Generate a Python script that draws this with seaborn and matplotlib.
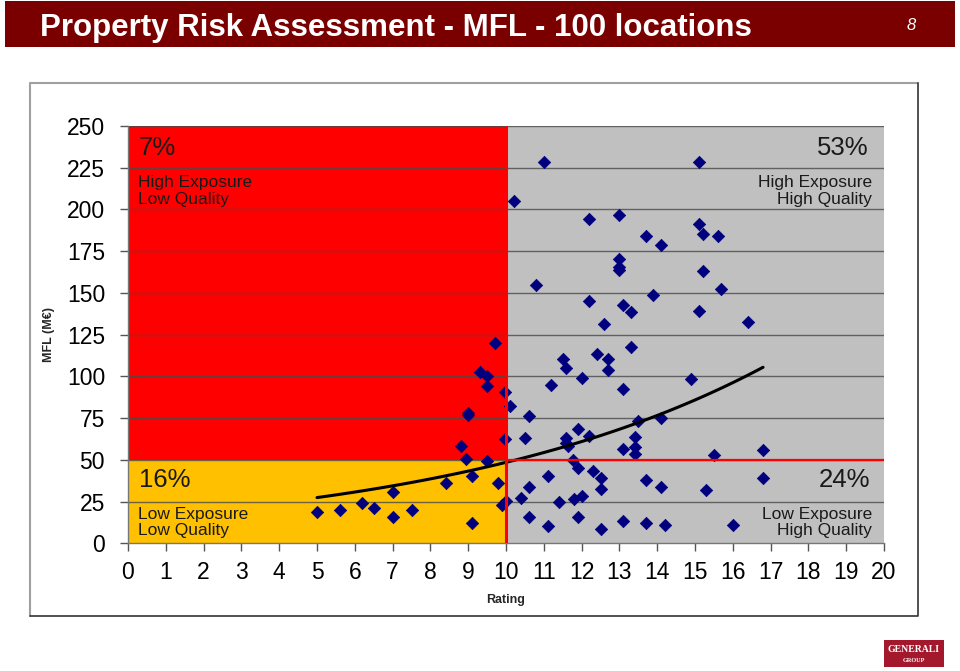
"""
plot.py

Property Risk Assessment - MFL by Rating scatter (100 locations)
Quadrant backgrounds, diamond markers, exponential trend line.
"""

import numpy as np
import pandas as pd
import matplotlib
matplotlib.use('Agg')
import matplotlib.pyplot as plt
from matplotlib.patches import Rectangle
import seaborn as sns

# Location ratings (x) and MFL in M EUR (y)
rating = [5.0, 5.6, 6.2, 6.5, 7.0, 7.0, 7.5, 8.4, 8.8, 8.95,
          9.0, 9.0, 9.1, 9.1, 9.3, 9.5, 9.5, 9.5, 9.7, 9.8,
          9.9, 9.97, 9.97, 10.0,
          10.1, 10.2, 10.6, 10.5, 10.8, 11.0, 11.2, 11.5, 11.6, 11.58,
          11.58, 11.65, 11.78, 11.9, 12.0, 12.2, 12.2, 12.2, 12.4, 12.6,
          12.7, 12.7, 13.0, 13.0, 13.0, 13.0, 13.1, 13.1, 13.1, 13.3,
          13.3, 13.4, 13.4, 13.4, 13.5, 13.7, 13.9, 14.1, 14.1, 14.9,
          15.1, 15.1, 15.2, 15.6, 15.2, 15.7, 15.1, 16.4, 15.5, 16.8,
          10.4, 10.6, 10.6, 11.1, 11.1, 11.4, 11.8, 11.9, 11.9, 12.0,
          12.3, 12.5, 12.5, 12.5, 13.1, 13.7, 13.7, 14.1, 14.2, 15.3,
          16.8, 16.0]
mfl = [18.6, 19.9, 24.3, 21.0, 30.6, 15.6, 19.8, 36.3, 58.1, 50.3,
       78.0, 77.0, 12.2, 40.3, 102.4, 100.0, 94.2, 49.5, 119.8, 36.3,
       23.1, 90.8, 62.7, 25.3,
       82.1, 205.3, 76.5, 62.9, 154.8, 228.5, 95.0, 110.6, 105.2, 62.9,
       59.9, 58.3, 49.9, 68.5, 99.2, 64.5, 194.5, 145.4, 113.4, 131.6,
       110.6, 103.7, 196.5, 170.3, 165.4, 163.8, 142.6, 92.3, 56.5, 117.6,
       138.6, 63.5, 57.5, 53.5, 73.3, 184.0, 149.0, 178.5, 75.3, 98.3,
       228.5, 191.5, 185.1, 184.3, 163.2, 152.6, 139.4, 132.6, 53.1, 56.1,
       27.3, 33.6, 16.0, 40.5, 10.2, 24.7, 26.5, 45.3, 16.0, 28.3,
       43.5, 39.0, 32.5, 8.7, 13.2, 37.9, 12.0, 33.9, 10.8, 32.1,
       38.9, 11.1]

# Quadrant labels
quadPct = ['7%', '53%', '16%', '24%']
quadText = ['High Exposure\nLow Quality', 'High Exposure\nHigh Quality',
            'Low Exposure\nLow Quality', 'Low Exposure\nHigh Quality']

xTicks = list(range(0, 21))
yTicks = [0, 25, 50, 75, 100, 125, 150, 175, 200, 225, 250]

# Thresholds
ratingCut = 10
mflCut = 50

pointsDF = pd.DataFrame({'Rating': rating, 'MFL': mfl})

sns.set_style('white')
plt.rcParams['font.family'] = ['Liberation Sans', 'DejaVu Sans']

fig = plt.figure(figsize=(9.6, 6.71), dpi=100)

# Title bar
fig.patches.append(Rectangle((5 / 960, 1 - 47 / 671), 950 / 960, 46 / 671,
                             transform=fig.transFigure, facecolor='#7a0000',
                             edgecolor='none', zorder=0))
fig.text(40 / 960, 1 - 28 / 671, 'Property Risk Assessment - MFL - 100 locations',
         color='white', fontsize=22.5, fontweight='bold', va='center', ha='left')
fig.text(911 / 960, 1 - 25 / 671, '8', color='white', fontsize=12, style='italic',
         va='center', ha='center')

# Chart frame (light top/left, dark right/bottom)
fL, fR, fT, fB = 30 / 960, 918 / 960, 1 - 83 / 671, 1 - 616 / 671
fig.lines.append(plt.Line2D([fL, fL, fR], [fB, fT, fT], transform=fig.transFigure,
                            color='#a0a0a0', lw=1.5))
fig.lines.append(plt.Line2D([fL, fR, fR], [fB, fB, fT], transform=fig.transFigure,
                            color='#333333', lw=1.2))

# Logo stand-in
fig.patches.append(Rectangle((884 / 960, 1 - 667 / 671), 60 / 960, 27 / 671,
                             transform=fig.transFigure, facecolor='#a3182c',
                             edgecolor='none'))
fig.text(914 / 960, 1 - 650 / 671, 'GENERALI', color='white', fontsize=7,
         fontweight='bold', ha='center', va='center', family=['Liberation Serif'])
fig.text(914 / 960, 1 - 661 / 671, 'GROUP', color='white', fontsize=4.5,
         fontweight='bold', ha='center', va='center', family=['Liberation Serif'])

ax = fig.add_axes([128 / 960, 1 - 543.3 / 671, 756 / 960, 417.3 / 671])

# Quadrant backgrounds
ax.add_patch(Rectangle((0, mflCut), ratingCut, 250 - mflCut, facecolor='#ff0000',
                       edgecolor='none', zorder=0))
ax.add_patch(Rectangle((0, 0), ratingCut, mflCut, facecolor='#ffc000',
                       edgecolor='none', zorder=0))
ax.add_patch(Rectangle((ratingCut, 0), 20 - ratingCut, 250, facecolor='#c0c0c0',
                       edgecolor='none', zorder=0))

# Gridlines
for yv in yTicks[1:]:
    ax.axhline(yv, color='#4a4a4a', lw=1.0, alpha=0.8, zorder=1)

# Exponential trend (least squares on log MFL, as Excel does)
b, lnA = np.polyfit(pointsDF['Rating'], np.log(pointsDF['MFL']), 1)
trendX = np.linspace(pointsDF['Rating'].min(), pointsDF['Rating'].max(), 100)
trendDF = pd.DataFrame({'Rating': trendX, 'MFL': np.exp(lnA) * np.exp(b * trendX)})

sns.scatterplot(data=pointsDF, x='Rating', y='MFL', marker='D', s=40,
                color='#00007f', edgecolor='#00007f', linewidth=0.5, ax=ax, zorder=3)
sns.lineplot(data=trendDF, x='Rating', y='MFL', color='black', lw=2.2, ax=ax, zorder=4)

# Threshold lines
ax.plot([ratingCut, ratingCut], [0, 250], color='#ff0000', lw=2.2, zorder=5)
ax.plot([ratingCut, 20], [mflCut, mflCut], color='#ff0000', lw=1.6, zorder=5)

# Quadrant texts
txtColor = '#1a1a1a'
pctSize = 18.5
lblSize = 12.5
ax.text(0.28, 237, quadPct[0], fontsize=pctSize, color=txtColor, ha='left', va='center')
ax.text(0.26, 211, quadText[0], fontsize=lblSize, color=txtColor, ha='left', va='center',
        linespacing=1.12)
ax.text(19.6, 237, quadPct[1], fontsize=pctSize, color=txtColor, ha='right', va='center')
ax.text(19.68, 211, quadText[1], fontsize=lblSize, color=txtColor, ha='right', va='center',
        linespacing=1.12, multialignment='right')
ax.text(0.28, 38, quadPct[2], fontsize=pctSize, color=txtColor, ha='left', va='center')
ax.text(0.26, 12.5, quadText[2], fontsize=lblSize, color=txtColor, ha='left', va='center',
        linespacing=1.12)
ax.text(19.63, 38, quadPct[3], fontsize=pctSize, color=txtColor, ha='right', va='center')
ax.text(19.68, 12.5, quadText[3], fontsize=lblSize, color=txtColor, ha='right', va='center',
        linespacing=1.12, multialignment='right')

ax.set_xlim(0, 20)
ax.set_ylim(0, 250)
ax.set_xticks(xTicks)
ax.set_yticks(yTicks)
ax.tick_params(axis='both', direction='out', length=5.5, width=1, color='#555555',
               labelsize=16.5, labelcolor='black', left=True, bottom=True)
ax.tick_params(axis='x', pad=7)
ax.tick_params(axis='y', pad=11)

for side in ['top', 'right']:
    ax.spines[side].set_visible(False)
for side in ['left', 'bottom']:
    ax.spines[side].set_color('#777777')
    ax.spines[side].set_linewidth(1)

ax.set_xlabel('Rating', fontsize=9, fontweight='bold')
ax.set_ylabel('MFL (M€)', fontsize=9, fontweight='bold')
ax.xaxis.set_label_coords(0.5, -0.122)
ax.yaxis.set_label_coords(-0.097, 0.5)

plt.savefig('out.png', dpi=100)
plt.close()
